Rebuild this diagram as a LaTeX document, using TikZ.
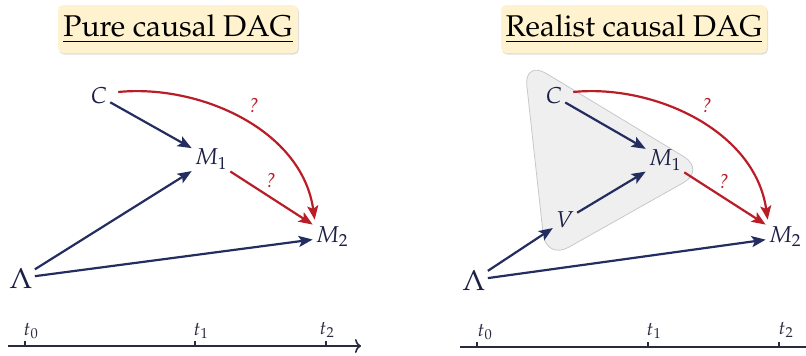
\documentclass[tikz,border=0pt]{standalone}
\usepackage[T1]{fontenc}
\usepackage{mathpazo}
\usetikzlibrary{arrows.meta,shadows,calc}
\definecolor{navy}{RGB}{35,45,95}
\definecolor{navytext}{RGB}{28,32,70}
\definecolor{dagred}{RGB}{185,30,40}
\definecolor{titlefill}{RGB}{255,243,207}
\definecolor{blobfill}{RGB}{239,239,239}
\definecolor{blobdraw}{RGB}{200,200,200}
\definecolor{axis}{RGB}{40,42,62}
\begin{document}
\begin{tikzpicture}[x=1pt,y=-1pt,
  var/.style={font=\fontsize{23}{27}\selectfont, text=navytext, inner sep=3pt},
  bigvar/.style={font=\fontsize{29}{33}\selectfont, text=navytext, inner sep=2pt},
  tlabel/.style={font=\fontsize{19}{23}\selectfont, text=axis, inner sep=0pt},
  qmark/.style={font=\fontsize{20}{24}\selectfont\itshape, text=dagred, inner sep=0pt},
  titlebox/.style={fill=titlefill, rounded corners=5pt, minimum width=240pt, minimum height=48pt,
     font=\fontsize{30}{34}\selectfont, text=black,
     drop shadow={opacity=0.25, shadow xshift=1pt, shadow yshift=-1.5pt}},
  bluearrow/.style={draw=navy, line width=2.2pt, -{Stealth[length=14pt,width=11pt,inset=3pt]}},
  redarrow/.style={draw=dagred, line width=2.2pt, -{Stealth[length=14pt,width=11pt,inset=3pt]}},
  axisline/.style={draw=axis, line width=1.6pt, -{To[length=6pt,width=14pt]}},
  tick/.style={draw=axis, line width=1.2pt}
]
\useasboundingbox (0,0) rectangle (806,356);

% ---------------- Left panel ----------------
\node[titlebox] (title1) at (178,29) {\underline{Pure causal DAG}};

\node[var] (C1) at (99,96) {$C$};
\node[var] (M11) at (211,159) {$M_1$};
\node[var] (M21) at (332,237) {$M_2$};
\node[bigvar] (L1) at (21,278) {$\Lambda$};

\draw[bluearrow] (C1) -- (M11);
\draw[bluearrow] (L1) -- (M11);
\draw[bluearrow] (L1) -- (M21);
\draw[redarrow] (M11) -- (M21);
\draw[redarrow] ($(C1.east)+(8,-4)$) .. controls (200,84) and (302,130) .. ($(M21.north west)+(2,-4)$);
\node[qmark] (q11) at (254,106) {?};
\node[qmark] (q21) at (271,181) {?};

\coordinate (a1s) at (8,346);
\coordinate (a1e) at (361,346);
\draw[axisline] (a1s) -- (a1e);
\coordinate (k10) at (25,346);
\coordinate (k11) at (195,346);
\coordinate (k12) at (326,346);
\draw[tick] (k10) -- ++(0,-5);
\draw[tick] (k11) -- ++(0,-5);
\draw[tick] (k12) -- ++(0,-5);
\node[tlabel] (t10) at (31,331) {$t_0$};
\node[tlabel] (t11) at (201,331) {$t_1$};
\node[tlabel] (t12) at (327,330) {$t_2$};

% ---------------- Right panel ----------------
\node[titlebox, minimum width=266pt] (title2) at (634,29) {\underline{Realist causal DAG}};

\draw[fill=blobfill, draw=blobdraw, line width=0.8pt, rounded corners=26pt]
  (524,60) -- (546,260) -- (706,170) -- cycle;

\node[var] (C2) at (554,96) {$C$};
\node[var] (M12) at (665,160) {$M_1$};
\node[var] (V2) at (565,220) {$V$};
\node[var] (M22) at (785,237) {$M_2$};
\node[bigvar] (L2) at (474,280) {$\Lambda$};

\draw[bluearrow] (C2) -- (M12);
\draw[bluearrow] (V2) -- (M12);
\draw[bluearrow] (L2) -- (V2);
\draw[bluearrow] (L2) -- (M22);
\draw[redarrow] (M12) -- (M22);
\draw[redarrow] ($(C2.east)+(8,-4)$) .. controls (653,84) and (755,130) .. ($(M22.north west)+(2,-4)$);
\node[qmark] (q12) at (707,106) {?};
\node[qmark] (q22) at (724,182) {?};

\coordinate (a2s) at (460,347);
\coordinate (a2e) at (812,347);
\draw[axisline] (a2s) -- (a2e);
\coordinate (k20) at (477,347);
\coordinate (k21) at (648,347);
\coordinate (k22) at (779,347);
\draw[tick] (k20) -- ++(0,-5);
\draw[tick] (k21) -- ++(0,-5);
\draw[tick] (k22) -- ++(0,-5);
\node[tlabel] (t20) at (485,332) {$t_0$};
\node[tlabel] (t21) at (654,331) {$t_1$};
\node[tlabel] (t22) at (786,330) {$t_2$};
\end{tikzpicture}
\end{document}
